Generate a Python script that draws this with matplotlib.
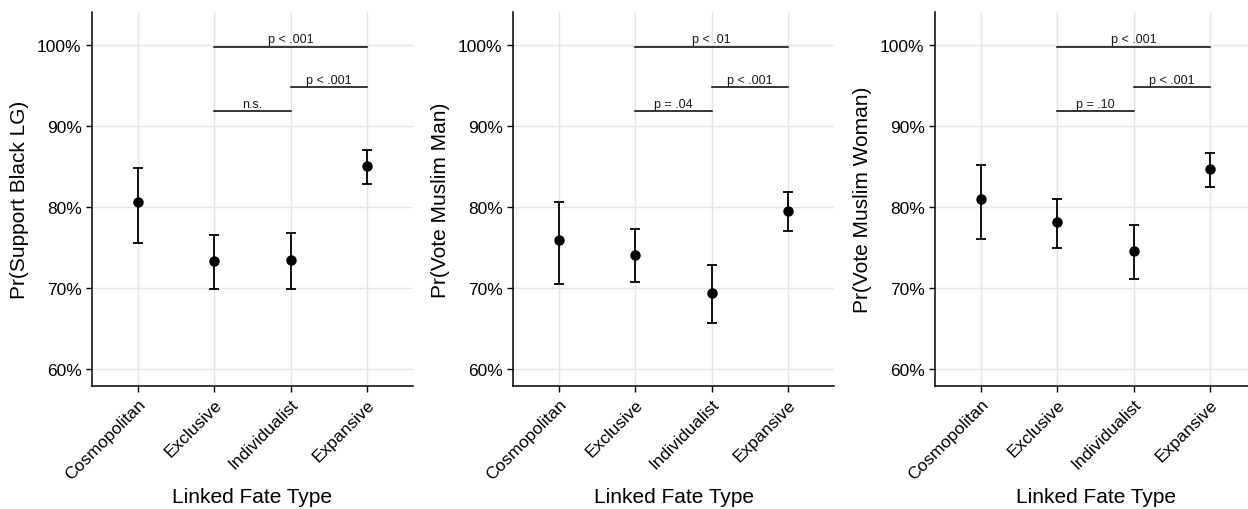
import matplotlib.pyplot as plt
import numpy as np

plt.rcParams['font.family'] = ['Liberation Sans', 'DejaVu Sans']

categories = ["Cosmopolitan", "Exclusive", "Individualist", "Expansive"]

# estimates and 95% CI, in percent
support_black_lg = [80.6, 73.3, 73.45, 85.1]
support_black_lg_lo = [75.55, 69.9, 69.9, 82.9]
support_black_lg_hi = [84.85, 76.5, 76.75, 87.05]

vote_muslim_man = [75.9, 74.1, 69.4, 79.55]
vote_muslim_man_lo = [70.5, 70.75, 65.7, 77.0]
vote_muslim_man_hi = [80.6, 77.3, 72.9, 81.85]

vote_muslim_woman = [81.05, 78.1, 74.6, 84.7]
vote_muslim_woman_lo = [76.1, 74.9, 71.15, 82.5]
vote_muslim_woman_hi = [85.2, 81.0, 77.8, 86.7]

ylabels = ["Pr(Support Black LG)", "Pr(Vote Muslim Man)", "Pr(Vote Muslim Woman)"]

# brackets: (from category, to category, height in percent)
bracket_pairs = [(1, 3), (2, 3), (1, 2)]
bracket_heights = [99.8, 94.8, 91.85]
bracket_labels = [
    ["p < .001", "p < .001", "n.s."],
    ["p < .01", "p < .001", "p = .04"],
    ["p < .001", "p < .001", "p = .10"],
]

panels = [
    (support_black_lg, support_black_lg_lo, support_black_lg_hi),
    (vote_muslim_man, vote_muslim_man_lo, vote_muslim_man_hi),
    (vote_muslim_woman, vote_muslim_woman_lo, vote_muslim_woman_hi),
]

W, H = 1248, 510
fig = plt.figure(figsize=(W / 100, H / 100), dpi=100)
lefts = [92, 513, 935]
ax_w = 321
ax_top, ax_bot = 13, 387

x = np.arange(len(categories))
for i, (est, lo, hi) in enumerate(panels):
    ax = fig.add_axes([lefts[i] / W, 1 - ax_bot / H, ax_w / W, (ax_bot - ax_top) / H])
    est = np.array(est)
    yerr = [est - np.array(lo), np.array(hi) - est]
    ax.errorbar(x, est, yerr=yerr, fmt="o", color="black", ms=6.5,
                elinewidth=1.3, capsize=3.5, capthick=1.3, zorder=3)

    for (a, b), h, lab in zip(bracket_pairs, bracket_heights, bracket_labels[i]):
        ax.plot([a, b], [h, h], color="black", lw=1.1, zorder=3)
        ax.text((a + b) / 2, h + 0.2, lab, ha="center", va="bottom",
                fontsize=9, color="#1a1a1a")

    ax.set_xlim(-0.6, 3.6)
    ax.set_ylim(57.9, 104.1)
    ax.set_yticks([60, 70, 80, 90, 100])
    ax.set_yticklabels([f"{v}%" for v in [60, 70, 80, 90, 100]])
    ax.set_xticks(x)
    ax.set_xticklabels(categories, rotation=45, ha="right", rotation_mode="anchor")
    ax.grid(True, color="#e5e5e5", lw=1.0, zorder=0)
    ax.set_axisbelow(True)
    for s in ["top", "right"]:
        ax.spines[s].set_visible(False)
    for s in ["left", "bottom"]:
        ax.spines[s].set_linewidth(1.1)
        ax.spines[s].set_color("black")
    ax.tick_params(axis="both", colors="black", labelsize=12.5, length=4, width=1.0)
    ax.set_ylabel(ylabels[i], fontsize=15, labelpad=6)
    ax.set_xlabel("Linked Fate Type", fontsize=15, labelpad=3)

fig.savefig("out.png", dpi=100)
